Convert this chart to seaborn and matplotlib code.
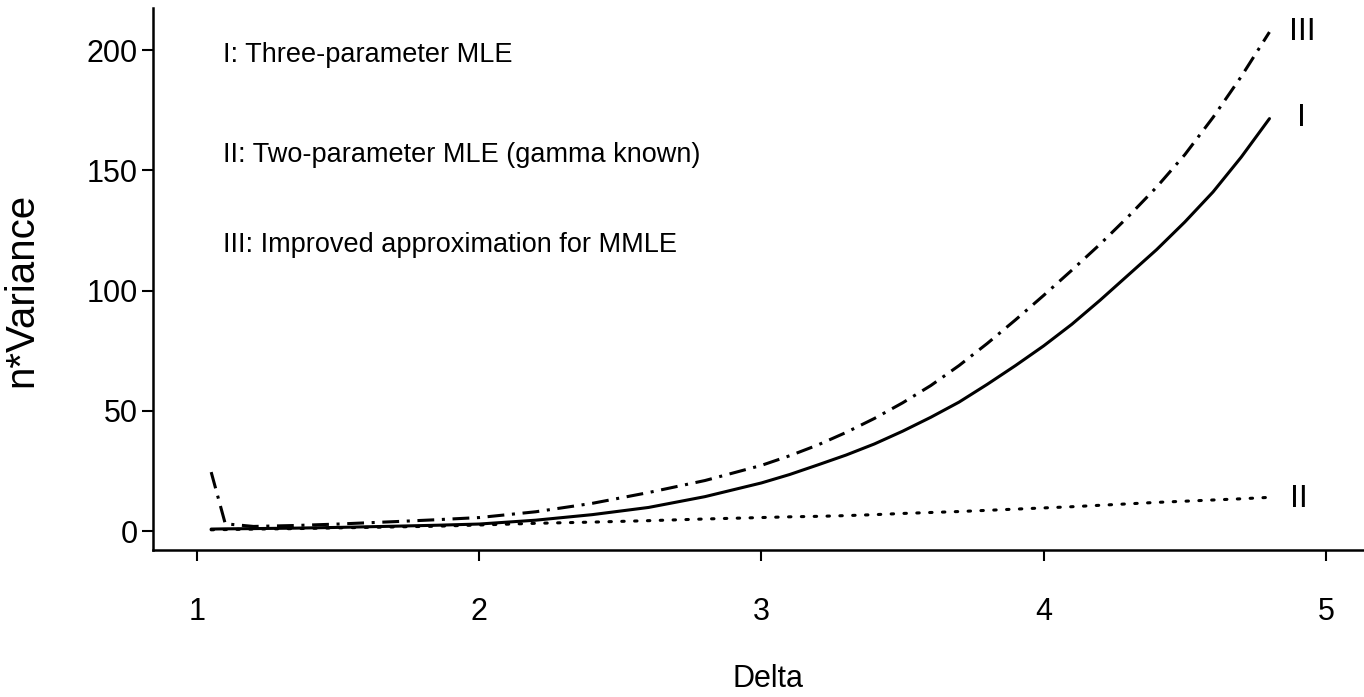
import numpy as np
import pandas as pd
import matplotlib
matplotlib.use("Agg")
import matplotlib.pyplot as plt
import seaborn as sns

# values
delta = [1.05, 1.1, 1.2, 1.35, 1.5, 1.7, 1.85, 2.0, 2.2, 2.4, 2.6, 2.8, 3.0, 3.1, 3.2,
         3.3, 3.4, 3.5, 3.6, 3.7, 3.8, 3.9, 4.0, 4.1, 4.2, 4.3, 4.4, 4.5, 4.6, 4.7, 4.8]
var_three_param = [0.8, 0.9, 1.0, 1.2, 1.5, 2.0, 2.4, 2.9, 4.5, 6.8, 9.8, 14.3, 20.0, 23.5, 27.5,
                   31.6, 36.2, 41.5, 47.3, 53.6, 61.0, 68.8, 77.0, 86.0, 96.0, 106.5, 117.0,
                   128.5, 141.0, 155.5, 171.5]
var_two_param = [0.5, 0.6, 0.8, 1.0, 1.3, 1.7, 2.0, 2.5, 3.2, 3.7, 4.3, 5.0, 5.6, 5.9, 6.1,
                 6.4, 6.8, 7.3, 7.7, 8.1, 8.6, 9.1, 9.6, 10.1, 10.7, 11.3, 11.9, 12.4, 12.9,
                 13.4, 14.0]
var_improved = [24.5, 3.0, 1.9, 2.3, 2.9, 3.9, 4.7, 5.6, 8.0, 11.5, 16.0, 21.0, 27.3, 31.3, 35.8,
                41.0, 46.8, 53.3, 60.5, 68.8, 78.0, 87.8, 98.0, 108.5, 119.3, 130.8, 143.0,
                156.5, 172.0, 189.0, 207.5]

x_ticks = [1, 2, 3, 4, 5]
y_ticks = [0, 50, 100, 150, 200]
legend_lines = ["I: Three-parameter MLE",
                "II: Two-parameter MLE (gamma known)",
                "III: Improved approximation for MMLE"]

sns.set_theme(style="ticks")
plt.rcParams["font.family"] = ["Liberation Sans", "DejaVu Sans"]

fig = plt.figure(figsize=(13.64, 6.97), dpi=100)
ax = fig.add_axes([0.1122, 0.2109, 0.8878, 0.7776])

df = pd.DataFrame({"delta": delta, "I": var_three_param,
                   "II": var_two_param, "III": var_improved})

sns.lineplot(data=df, x="delta", y="I", ax=ax, color="black", lw=2.2)
sns.lineplot(data=df, x="delta", y="II", ax=ax, color="black", lw=2.2,
             linestyle=(0, (0.8, 3.4)), dash_capstyle="round")
sns.lineplot(data=df, x="delta", y="III", ax=ax, color="black", lw=2.2,
             linestyle=(0, (5.5, 2.5, 1, 2.5)))

ax.set_xlim(0.844, 5.135)
ax.set_ylim(-7.9, 217.5)
ax.set_xticks(x_ticks)
ax.set_yticks(y_ticks)

for side in ["top", "right"]:
    ax.spines[side].set_visible(False)
for side in ["left", "bottom"]:
    ax.spines[side].set_linewidth(1.8)
    ax.spines[side].set_color("black")

ax.tick_params(axis="both", direction="out", length=8, width=1.5, color="black",
               labelsize=22, labelcolor="black")
ax.tick_params(axis="y", pad=3)
ax.tick_params(axis="x", pad=26)

ax.set_xlabel("Delta", fontsize=22, color="black")
ax.set_ylabel("n*Variance", fontsize=29, color="black")
ax.xaxis.set_label_coords(0.508, -0.21)
ax.yaxis.set_label_coords(-0.093, 0.48)

# description text
for txt, yb in zip(legend_lines, [195, 153.4, 116]):
    ax.text(1.092, yb, txt, fontsize=19.5, va="baseline", ha="left", color="black")

# curve end labels
ax.text(4.915, 207.7, "III", fontsize=23, va="center", ha="center", color="black")
ax.text(4.915, 171.7, "I", fontsize=23, va="center", ha="center", color="black")
ax.text(4.905, 13.5, "II", fontsize=23, va="center", ha="center", color="black")

fig.savefig("out.png", dpi=100)
